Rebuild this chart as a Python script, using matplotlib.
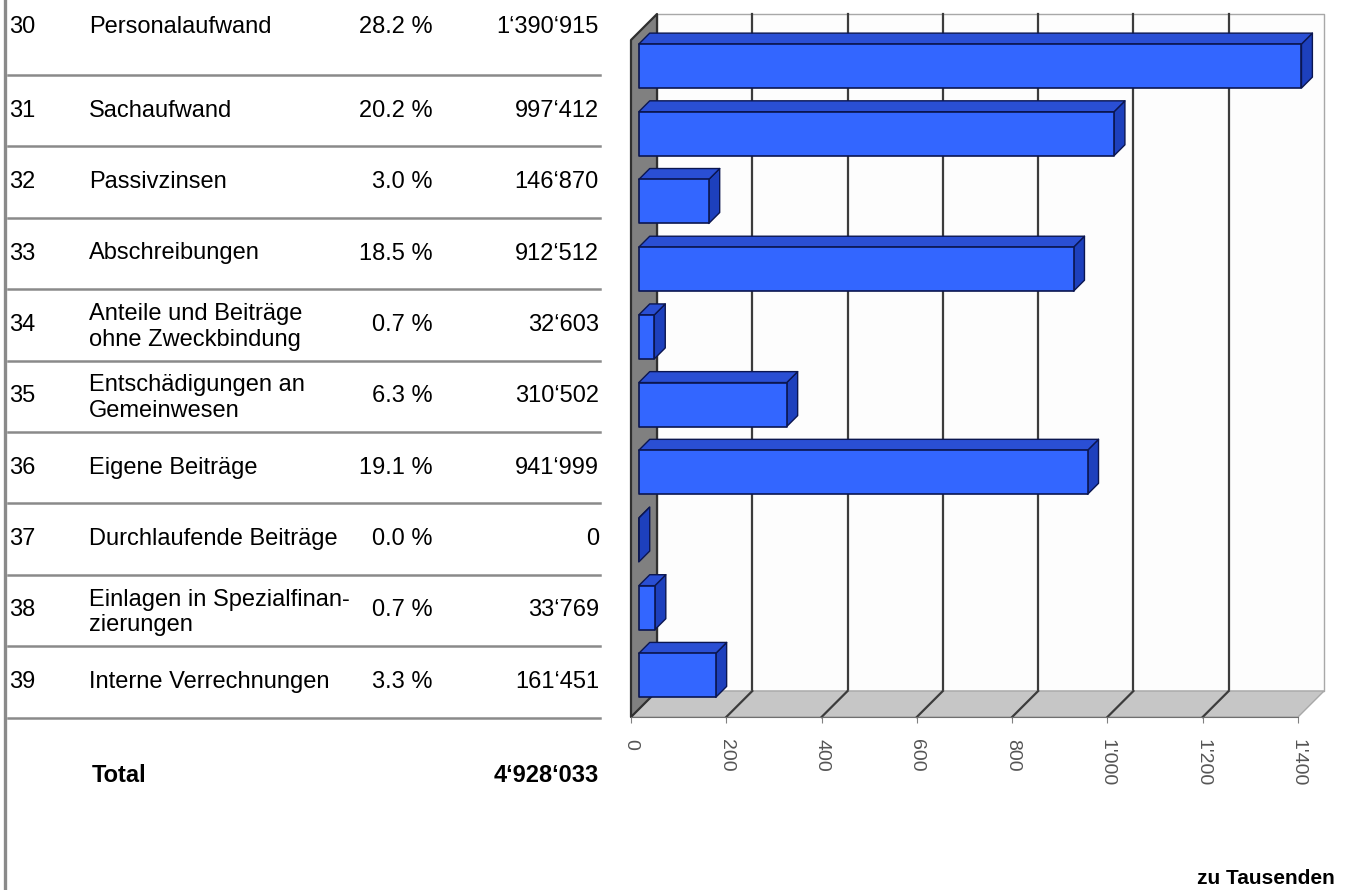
import matplotlib
matplotlib.use("Agg")
import matplotlib.pyplot as plt
from matplotlib.patches import Polygon
from matplotlib.lines import Line2D

# --- data -------------------------------------------------------------
codes = ["30", "31", "32", "33", "34", "35", "36", "37", "38", "39"]
names = [
    "Personalaufwand",
    "Sachaufwand",
    "Passivzinsen",
    "Abschreibungen",
    "Anteile und Beiträge\nohne Zweckbindung",
    "Entschädigungen an\nGemeinwesen",
    "Eigene Beiträge",
    "Durchlaufende Beiträge",
    "Einlagen in Spezialfinan-\nzierungen",
    "Interne Verrechnungen",
]
percents = [28.2, 20.2, 3.0, 18.5, 0.7, 6.3, 19.1, 0.0, 0.7, 3.3]
amounts = [1390915, 997412, 146870, 912512, 32603, 310502, 941999, 0, 33769, 161451]
total = 4928033
ticks = [0, 200, 400, 600, 800, 1000, 1200, 1400]
tick_labels = ["0", "200", "400", "600", "800", "1'000", "1'200", "1'400"]

values_k = [a / 1000 for a in amounts]

W, H = 1345, 890
FONT = "Liberation Sans"


def fmt(n):
    return f"{n:,}".replace(",", "\u2018")


def fy(y):
    return 1 - y / H


fig = plt.figure(figsize=(W / 100, H / 100), dpi=100)
fig.patch.set_facecolor("white")

# --- left table -------------------------------------------------------
line_c = "#8a8a8a"
fig.add_artist(Line2D([5 / W, 5 / W], [0, 1], color=line_c, lw=2.4))
sep0, row_h = 75, 71.4
for k in range(len(codes)):
    y = sep0 + k * row_h
    fig.add_artist(Line2D([8 / W, 600 / W], [fy(y), fy(y)], color=line_c, lw=1.8))

for i, (c, n, p, a) in enumerate(zip(codes, names, percents, amounts)):
    yc = 27 if i == 0 else sep0 + (i - 0.5) * row_h
    kw = dict(fontsize=17, family=FONT, va="center", color="black")
    fig.text(9 / W, fy(yc), c, ha="left", **kw)
    yn = yc + 2 if "\n" in n else yc
    fig.text(89 / W, fy(yn), n, ha="left", linespacing=1.22, **kw)
    fig.text(433 / W, fy(yc), f"{p:.1f} %", ha="right", **kw)
    fig.text(599 / W, fy(yc), fmt(a), ha="right", **kw)

fig.text(92 / W, fy(775), "Total", ha="left", va="center", fontsize=17,
         family=FONT, fontweight="bold")
fig.text(599 / W, fy(775), fmt(total), ha="right", va="center", fontsize=17,
         family=FONT, fontweight="bold")
fig.text(1335 / W, fy(878), "zu Tausenden", ha="right", va="center",
         fontsize=15, family=FONT, fontweight="bold")

# --- pseudo 3D bar chart ----------------------------------------------
ax = fig.add_axes([631 / W, 1 - 717 / H, 667 / W, 677 / H])
xmax, ncat = 1400, len(values_k)
ax.set_xlim(0, xmax)
ax.set_ylim(ncat, 0)
ax.patch.set_visible(False)

DX = 26 / (667 / xmax)      # depth of the box in value units
DY = -26 / (677 / ncat)     # depth of the box in category units


def shift(pts, f):
    return [(x + f * DX, y + f * DY) for x, y in pts]


def poly(pts, fc, ec, lw=1.0, z=1):
    ax.add_patch(Polygon(pts, closed=True, facecolor=fc, edgecolor=ec,
                         lw=lw, zorder=z, clip_on=False, joinstyle="round"))


grid_c = "#3c3c3c"
# back wall
poly(shift([(0, 0), (xmax, 0), (xmax, ncat), (0, ncat)], 1), "#fdfdfd", "#a8a8a8", 1.0, 1)
for t in ticks[1:-1]:
    ax.plot([t + DX, t + DX], [DY, ncat + DY], color=grid_c, lw=1.6,
            zorder=2, clip_on=False)
# floor
poly([(0, ncat), (xmax, ncat), (xmax + DX, ncat + DY), (DX, ncat + DY)],
     "#c6c6c6", "#a8a8a8", 1.0, 3)
for t in ticks[1:-1]:
    ax.plot([t, t + DX], [ncat, ncat + DY], color=grid_c, lw=1.6,
            zorder=4, clip_on=False)
# left wall
poly([(0, 0), (DX, DY), (DX, ncat + DY), (0, ncat)], "#808080", "#303030", 1.6, 5)

# bars
f0, f1, bh = 0.3, 0.72, 0.65
for i, v in enumerate(values_k):
    y0, y1 = i + 0.5 - bh / 2, i + 0.5 + bh / 2
    front = shift([(0, y0), (v, y0), (v, y1), (0, y1)], f0)
    top = shift([(0, y0), (v, y0)], f0) + shift([(v, y0), (0, y0)], f1)
    side = shift([(v, y0)], f0) + shift([(v, y0), (v, y1)], f1) + shift([(v, y1)], f0)
    poly(side, "#1d40bd", "#0b1650", 1.0, 6)
    poly(top, "#2a4fd4", "#0b1650", 1.0, 6)
    poly(front, "#3366ff", "#0b1650", 1.2, 7)

for s in ["top", "right", "left"]:
    ax.spines[s].set_visible(False)
ax.spines["bottom"].set_color("#707070")
ax.spines["bottom"].set_zorder(8)
ax.set_yticks([])
ax.set_xticks(ticks)
ax.set_xticklabels(tick_labels, rotation=270, family=FONT)
ax.tick_params(axis="x", direction="out", length=4, color="#808080",
               pad=12, labelsize=14, labelcolor="#555555")

fig.savefig("out.png", dpi=100)
